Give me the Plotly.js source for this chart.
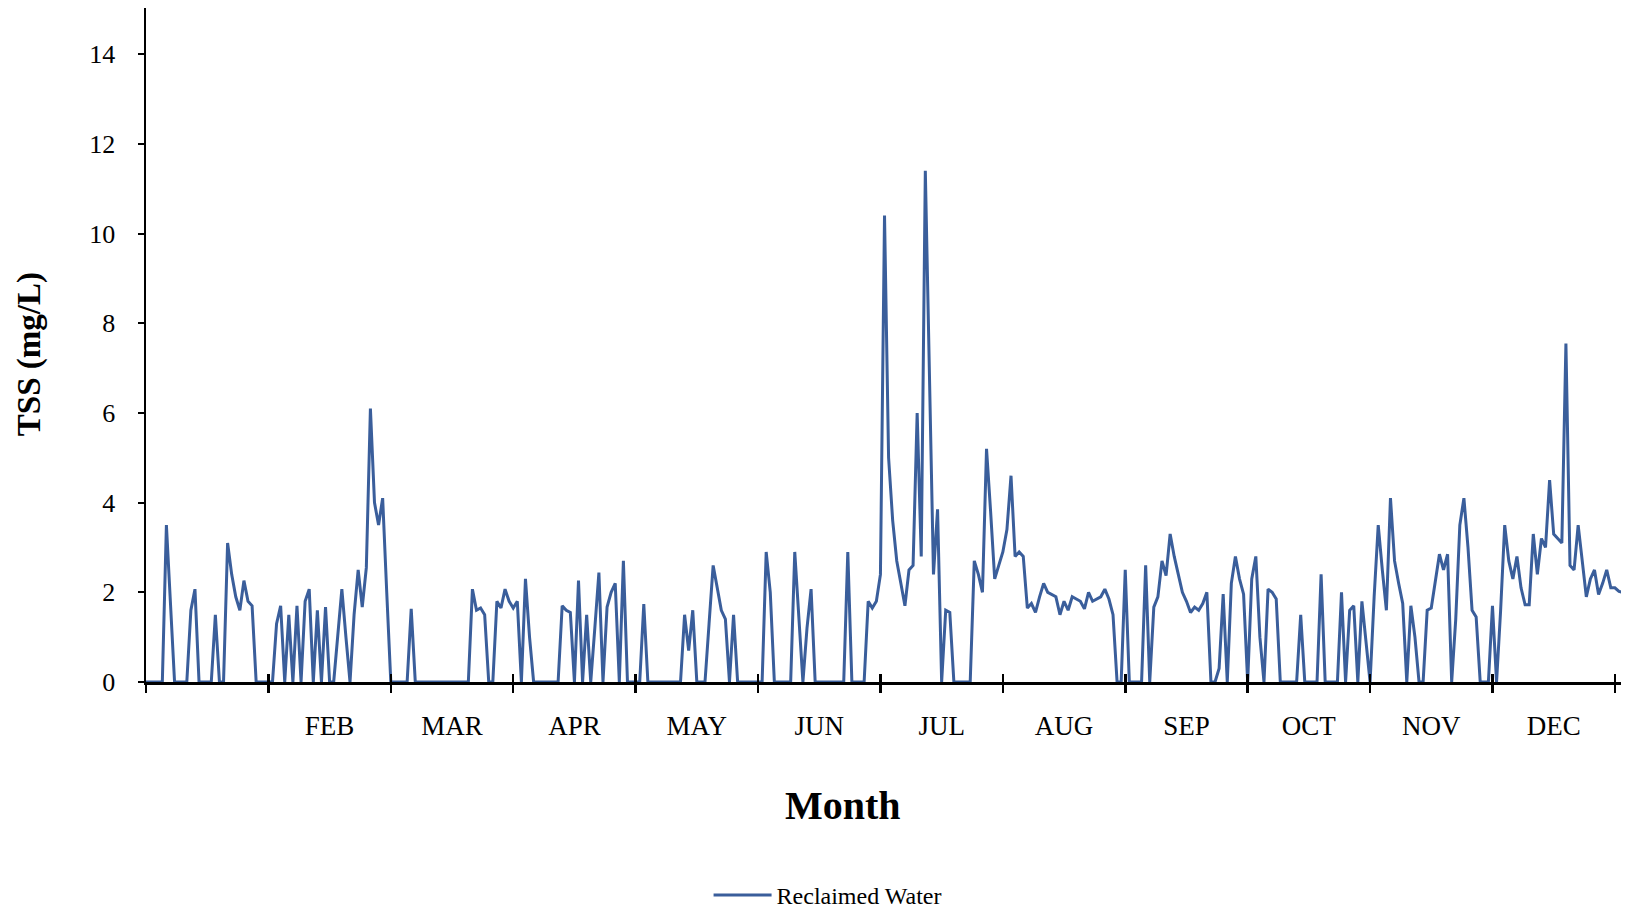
<!DOCTYPE html>
<html>
<head>
<meta charset="utf-8">
<script src="https://cdn.plot.ly/plotly-3.0.1.min.js"></script>
<style>
  html, body { margin: 0; padding: 0; background: #ffffff; }
  #chart { width: 1631px; height: 911px; }
</style>
</head>
<body>
<div id="chart"></div>
<script>
// Daily TSS (mg/L) of reclaimed water, one block per 30-day tick interval
const tssBlock01 = [0,0,0,0,0, 3.5,1.8,0,0,0, 0,1.6,2.07,0,0, 0,0,1.5,0,0, 3.1,2.4,1.9,1.6,2.26, 1.8,1.7,0,0,0];
const tssBlock02 = [0,0,1.3,1.7,0, 1.5,0,1.7,0,1.8, 2.07,0,1.6,0,1.67, 0,0,1.0,2.07,1.0, 0,1.5,2.5,1.67,2.55, 6.1,4.0,3.5,4.1,2.0];
const tssBlock03 = [0,0,0,0,0, 1.63,0,0,0,0, 0,0,0,0,0, 0,0,0,0,0, 2.07,1.6,1.65,1.5,0, 0,1.8,1.65,2.07,1.8];
const tssBlock04 = [1.65,1.8,0,2.3,1.0, 0,0,0,0,0, 0,0,1.7,1.6,1.55, 0,2.26,0,1.5,0, 1.2,2.44,0,1.67,2.0, 2.2,0,2.7,0,0];
const tssBlock05 = [0,0,1.74,0,0, 0,0,0,0,0, 0,0,1.5,0.7,1.6, 0,0,0,1.3,2.6, 2.1,1.6,1.4,0,1.5, 0,0,0,0,0];
const tssBlock06 = [0,0,2.9,2.0,0, 0,0,0,0,2.9, 1.4,0,1.2,2.07,0, 0,0,0,0,0, 0,0,2.9,0,0, 0,0,1.8,1.65,1.8];
const tssBlock07 = [2.4,10.4,5.0,3.6,2.7, 2.2,1.7,2.5,2.6,6.0, 2.8,11.4,7.0,2.4,3.85, 0,1.6,1.55,0,0, 0,0,0,2.7,2.4, 2.0,5.2,3.8,2.3,2.6];
const tssBlock08 = [2.9,3.4,4.6,2.8,2.9, 2.8,1.65,1.75,1.55,1.9, 2.2,2.0,1.95,1.9,1.5, 1.8,1.6,1.9,1.85,1.8, 1.63,2.0,1.8,1.85,1.9, 2.07,1.85,1.5,0,0];
const tssBlock09 = [2.5,0,0,0,0, 2.6,0,1.67,1.9,2.7, 2.37,3.3,2.8,2.4,2.0, 1.8,1.55,1.67,1.6,1.75, 2.0,0,0,0.3,1.96, 0,2.2,2.8,2.3,1.96];
const tssBlock10 = [0,2.3,2.8,1.0,0, 2.07,2.0,1.85,0,0, 0,0,0,1.5,0, 0,0,0,2.4,0, 0,0,0,2.0,0, 1.6,1.7,0,1.8,0.9];
const tssBlock11 = [0,1.9,3.5,2.5,1.6, 4.1,2.7,2.2,1.75,0, 1.7,1.0,0,0,1.6, 1.65,2.3,2.85,2.5,2.85, 0,1.4,3.5,4.1,3.0, 1.6,1.45,0,0,0];
const tssBlock12 = [1.7,0,1.6,3.5,2.7, 2.3,2.8,2.1,1.72,1.72, 3.3,2.4,3.2,3.0,4.5, 3.3,3.2,3.1,7.55,2.6, 2.5,3.5,2.7,1.9,2.3, 2.5,1.95,2.2,2.5,2.1, 2.1,2.02,2.0];

const tickDays = [0,30,60,90,120,150,180,210,240,270,300,330,360];
const monthLabelDays = [45,75,105,135,165,195,225,255,285,315,345];
const monthLabels = ['FEB','MAR','APR','MAY','JUN','JUL','AUG','SEP','OCT','NOV','DEC'];
const yTicks = [0,2,4,6,8,10,12,14];
const seriesName = 'Reclaimed Water';

const tss = [].concat(tssBlock01, tssBlock02, tssBlock03, tssBlock04, tssBlock05, tssBlock06,
                      tssBlock07, tssBlock08, tssBlock09, tssBlock10, tssBlock11, tssBlock12);
const days = tss.map((_, i) => i);

const serif = 'Liberation Serif, Times New Roman, serif';
const xRange = [0, 361.5];

const trace = {
  x: days, y: tss, type: 'scatter', mode: 'lines', name: seriesName,
  line: { color: '#3a5e9b', width: 3 },
  xaxis: 'x', yaxis: 'y'
};
// invisible helper traces so that overlay axes are drawn
const helper2 = { x: [0], y: [0], xaxis: 'x2', yaxis: 'y', mode: 'markers', marker: {opacity: 0}, showlegend: false, hoverinfo: 'skip' };
const helper3 = { x: [0], y: [0], xaxis: 'x3', yaxis: 'y', mode: 'markers', marker: {opacity: 0}, showlegend: false, hoverinfo: 'skip' };

const layout = {
  width: 1631, height: 911,
  margin: { l: 146, r: 10, t: 8, b: 229, autoexpand: false },
  paper_bgcolor: '#ffffff', plot_bgcolor: '#ffffff',
  font: { family: serif, color: '#000000' },
  showlegend: true,
  legend: {
    orientation: 'h', xref: 'container', yref: 'container',
    x: 0.5074, xanchor: 'center', y: 0.017, yanchor: 'middle',
    itemwidth: 58, bgcolor: 'rgba(0,0,0,0)',
    font: { family: serif, size: 24, color: '#000000' }
  },
  xaxis: {
    range: xRange, showgrid: false, zeroline: false, automargin: false,
    showline: true, linecolor: '#000000', linewidth: 2.5,
    tickmode: 'array', tickvals: tickDays, ticks: 'outside', ticklen: 8, tickwidth: 2.5, tickcolor: '#000000',
    showticklabels: false
  },
  xaxis2: {
    overlaying: 'x', anchor: 'y', range: xRange, showgrid: false, zeroline: false, showline: false, automargin: false,
    tickmode: 'array', tickvals: tickDays, ticks: 'inside', ticklen: 8, tickwidth: 2.5, tickcolor: '#000000',
    showticklabels: false
  },
  xaxis3: {
    overlaying: 'x', anchor: 'y', range: xRange, showgrid: false, zeroline: false, showline: false, automargin: false,
    tickmode: 'array', tickvals: monthLabelDays, ticktext: monthLabels, ticks: '',
    ticklabelstandoff: 25,
    tickfont: { family: serif, size: 27, color: '#000000' }
  },
  yaxis: {
    range: [0, 15.03], showgrid: false, zeroline: false, automargin: false,
    showline: true, linecolor: '#000000', linewidth: 2.5,
    tickmode: 'array', tickvals: yTicks, ticks: 'outside', ticklen: 6, tickwidth: 2, tickcolor: '#000000',
    ticklabelstandoff: 17,
    tickfont: { family: serif, size: 26, color: '#000000' }
  },
  annotations: [
    { text: '<b>Month</b>', xref: 'paper', yref: 'paper', x: 0.4725, y: -0.183,
      xanchor: 'center', yanchor: 'middle', showarrow: false,
      font: { family: serif, size: 40, color: '#000000' } },
    { text: '<b>TSS (mg/L)</b>', xref: 'paper', yref: 'paper', x: -0.079, y: 0.487,
      xanchor: 'center', yanchor: 'middle', textangle: -90, showarrow: false,
      font: { family: serif, size: 33, color: '#000000' } }
  ]
};

Plotly.newPlot('chart', [trace, helper2, helper3], layout, { displayModeBar: false, staticPlot: true });
</script>
</body>
</html>
